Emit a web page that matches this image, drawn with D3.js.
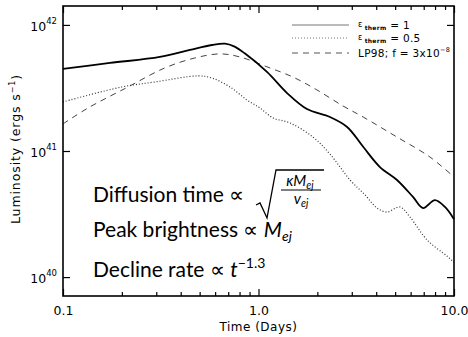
<!DOCTYPE html>
<html>
<head>
<meta charset="utf-8">
<script src="https://cdn.jsdelivr.net/npm/d3@7"></script>
<style>
  body { margin: 0; background: #fff; }
  svg { display: block; }
  .tick text { font-family: "DejaVu Sans", sans-serif; }
</style>
</head>
<body>
<div id="figure"></div>
<script>
// time in days, luminosity in units of 1e41 erg/s
var tFull = [0.1, 0.174, 0.313, 0.446, 0.578, 0.674, 0.75, 0.85, 1.105, 1.40, 1.77, 2.32, 2.84, 3.43, 4.18, 5.11, 6.17, 6.94, 7.99, 8.99, 10];
var lFull = [4.48, 4.99, 5.57, 6.34, 6.93, 7.10, 6.75, 5.95, 4.24, 2.88, 2.15, 1.86, 1.55, 1.08, 0.746, 0.589, 0.432, 0.353, 0.408, 0.360, 0.288];

var tHalf = [0.1, 0.200, 0.296, 0.490, 0.578, 0.715, 0.873, 1.018, 1.186, 1.45, 1.90, 2.32, 2.94, 3.51, 4.04, 4.54, 5.29, 5.96, 7.28, 9.2, 10];
var lHalf = [2.45, 3.22, 3.53, 3.94, 3.79, 3.22, 2.54, 2.19, 1.83, 1.67, 1.29, 0.946, 0.589, 0.448, 0.353, 0.328, 0.360, 0.299, 0.197, 0.147, 0.131];

var tLP = [0.1, 0.134, 0.215, 0.332, 0.473, 0.635, 0.804, 1.105, 1.50, 1.99, 2.70, 3.43, 5.11, 7.54, 10];
var lLP = [1.64, 2.19, 3.22, 4.56, 5.47, 5.89, 5.57, 4.65, 3.86, 3.05, 2.28, 1.86, 1.29, 0.895, 0.622];

var xMajor = [0.1, 1, 10];
var xMajorLabels = ["0.1", "1.0", "10.0"];
var xMinor = [0.2, 0.3, 0.4, 0.5, 0.6, 0.7, 0.8, 0.9, 2, 3, 4, 5, 6, 7, 8, 9];
var yTicks = [1e40, 1e41, 1e42];

var W = 468, H = 337;
var margin = { top: 6, right: 14, bottom: 41, left: 63 },
    width = W - margin.left - margin.right,
    height = H - margin.top - margin.bottom;

var svg = d3.select("#figure").append("svg")
    .attr("width", W)
    .attr("height", H);

var g = svg.append("g")
    .attr("transform", "translate(" + margin.left + "," + margin.top + ")");

var x = d3.scaleLog().domain([0.1, 10]).range([0, width]);
var y = d3.scaleLog().domain([Math.pow(10, 39.85), Math.pow(10, 42.15)]).range([height, 0]);

// curves
var line = d3.line()
    .x(function(d) { return x(d[0]); })
    .y(function(d) { return y(d[1] * 1e41); })
    .curve(d3.curveCatmullRom.alpha(0.5));

function pairs(ts, ls) { return ts.map(function(t, i) { return [t, ls[i]]; }); }

g.append("path")
    .datum(pairs(tLP, lLP))
    .attr("d", line)
    .attr("fill", "none")
    .attr("stroke", "#444")
    .attr("stroke-width", 1)
    .attr("stroke-dasharray", "6,5");

g.append("path")
    .datum(pairs(tHalf, lHalf))
    .attr("d", line)
    .attr("fill", "none")
    .attr("stroke", "#333")
    .attr("stroke-width", 1.2)
    .attr("stroke-dasharray", "1,2");

g.append("path")
    .datum(pairs(tFull, lFull))
    .attr("d", line)
    .attr("fill", "none")
    .attr("stroke", "#000")
    .attr("stroke-width", 1.8);

// axes, ticks pointing inward
function styleAxis(sel) {
  sel.select(".domain").remove();
  sel.selectAll(".tick line").attr("stroke", "#000").attr("stroke-width", 1.2);
}

g.append("g")
    .attr("transform", "translate(0," + height + ")")
    .call(d3.axisBottom(x).tickValues(xMajor).tickSize(-7).tickPadding(10)
      .tickFormat(function(d, i) { return xMajorLabels[i]; }))
    .call(styleAxis)
    .selectAll("text").attr("font-size", 12.5).attr("fill", "#000");

g.append("g")
    .attr("transform", "translate(0," + height + ")")
    .call(d3.axisBottom(x).tickValues(xMinor).tickSize(-4).tickFormat(""))
    .call(styleAxis);

g.append("g")
    .call(d3.axisTop(x).tickValues(xMajor).tickSize(-7).tickFormat(""))
    .call(styleAxis);

g.append("g")
    .call(d3.axisTop(x).tickValues(xMinor).tickSize(-4).tickFormat(""))
    .call(styleAxis);

var yAx = g.append("g")
    .call(d3.axisLeft(y).tickValues(yTicks).tickSize(-7).tickPadding(6).tickFormat(""))
    .call(styleAxis);

yAx.selectAll(".tick text").each(function(d) {
  var t = d3.select(this).attr("fill", "#000").attr("font-size", 12.5).attr("dy", "0.45em");
  t.append("tspan").text("10");
  t.append("tspan").attr("font-size", 8.5).attr("dy", "-0.8em").text(Math.round(Math.log10(d)));
});

g.append("g")
    .attr("transform", "translate(" + width + ",0)")
    .call(d3.axisRight(y).tickValues(yTicks).tickSize(-7).tickFormat(""))
    .call(styleAxis);

// frame
g.append("rect")
    .attr("width", width)
    .attr("height", height)
    .attr("fill", "none")
    .attr("stroke", "#000")
    .attr("stroke-width", 1.6);

// axis titles
svg.append("text")
    .attr("x", margin.left + width / 2)
    .attr("y", 331)
    .attr("text-anchor", "middle")
    .attr("font-family", "DejaVu Sans, sans-serif")
    .attr("font-size", 12)
    .attr("letter-spacing", 0.5)
    .text("Time (Days)");

var yt = svg.append("text")
    .attr("transform", "translate(20,149) rotate(-90)")
    .attr("text-anchor", "middle")
    .attr("font-family", "DejaVu Sans, sans-serif")
    .attr("font-size", 12.5)
    .attr("letter-spacing", 0.9);
yt.append("tspan").text("Luminosity (ergs s");
yt.append("tspan").attr("font-size", 8).attr("dy", "-0.6em").text("−1");
yt.append("tspan").attr("dy", "0.45em").text(")");

// legend
var legend = g.append("g").attr("transform", "translate(229,0)");
var legendRows = [
  { y: 19, dash: null, color: "#777", label: ["ε", "therm", " = 1"] },
  { y: 32, dash: "1,2", color: "#777", label: ["ε", "therm", " = 0.5"] },
  { y: 47, dash: "6,5", color: "#555", label: ["LP98; f = 3x10", "−8", ""] }
];
legendRows.forEach(function(r) {
  legend.append("line")
      .attr("x1", 0).attr("x2", 57)
      .attr("y1", r.y).attr("y2", r.y)
      .attr("stroke", r.color)
      .attr("stroke-width", 1)
      .attr("stroke-dasharray", r.dash);
  var t = legend.append("text")
      .attr("x", 66).attr("y", r.y + 4)
      .attr("font-family", "DejaVu Sans, sans-serif")
      .attr("font-size", 10.5)
      .attr("letter-spacing", 0.3);
  if (r.label[0] === "ε") {
    t.append("tspan").attr("font-size", 8).attr("dy", -2).text("ε");
    t.append("tspan").attr("font-size", 6).attr("font-weight", "bold").attr("dx", 2).attr("dy", 3).text("therm");
    t.append("tspan").attr("dy", -1).text(r.label[2]);
  } else {
    t.append("tspan").text(r.label[0]);
    t.append("tspan").attr("font-size", 6.5).attr("dy", -5).text(r.label[1]);
  }
});

// annotation
var ann = svg.append("g")
    .attr("font-family", "Lato, sans-serif")
    .attr("font-size", 21)
    .attr("fill", "#000");

ann.append("text").attr("x", 93).attr("y", 202).text("Diffusion time \u221D");

ann.append("path")
    .attr("d", "M256,205 L260,203 L267,218 L276,170 L324,170")
    .attr("fill", "none")
    .attr("stroke", "#000")
    .attr("stroke-width", 1.3);
var num = ann.append("text").attr("x", 300).attr("y", 186).attr("text-anchor", "middle").attr("font-size", 15).attr("font-style", "italic");
num.append("tspan").text("\u03BAM");
num.append("tspan").attr("font-size", 10.5).attr("dy", 3).text("ej");
ann.append("line")
    .attr("x1", 281).attr("x2", 321)
    .attr("y1", 190).attr("y2", 190)
    .attr("stroke", "#000").attr("stroke-width", 1);
var den = ann.append("text").attr("x", 301).attr("y", 204).attr("text-anchor", "middle").attr("font-size", 15).attr("font-style", "italic");
den.append("tspan").text("v");
den.append("tspan").attr("font-size", 10.5).attr("dy", 3).text("ej");

var pk = ann.append("text").attr("x", 93).attr("y", 237);
pk.append("tspan").text("Peak brightness \u221D ");
pk.append("tspan").attr("font-style", "italic").text("M");
pk.append("tspan").attr("font-style", "italic").attr("font-size", 14).attr("dy", 4).text("ej");

var dc = ann.append("text").attr("x", 93).attr("y", 277);
dc.append("tspan").text("Decline rate \u221D ");
dc.append("tspan").attr("font-style", "italic").text("t");
dc.append("tspan").attr("font-size", 14).attr("dy", -9).text("\u22121.3");
</script>
</body>
</html>
